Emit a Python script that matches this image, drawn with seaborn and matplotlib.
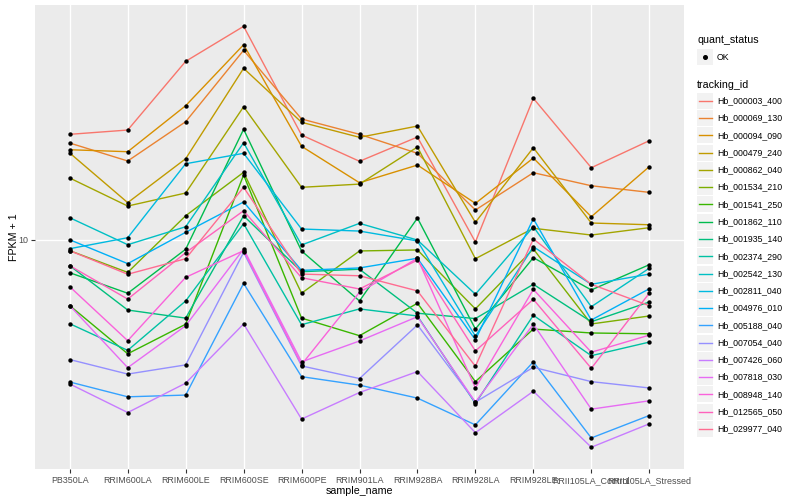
import numpy as np
import pandas as pd
import matplotlib
matplotlib.use('Agg')
import matplotlib.pyplot as plt
import seaborn as sns
from matplotlib.lines import Line2D
from matplotlib.patches import Rectangle
from matplotlib.ticker import NullLocator

# samples along the x axis
samples = ['PB350LA', 'RRIM600LA', 'RRIM600LE', 'RRIM600SE', 'RRIM600PE', 'RRIM901LA',
           'RRIM928BA', 'RRIM928LA', 'RRIM928LE', 'RRII105LA_Control', 'RRII105LA_Stressed']

genes = ['Hb_000003_400', 'Hb_000069_130', 'Hb_000094_090', 'Hb_000479_240', 'Hb_000862_040',
         'Hb_001534_210', 'Hb_001541_250', 'Hb_001862_110', 'Hb_001935_140', 'Hb_002374_290',
         'Hb_002542_130', 'Hb_002811_040', 'Hb_004976_010', 'Hb_005188_040', 'Hb_007054_040',
         'Hb_007426_060', 'Hb_007818_030', 'Hb_008948_140', 'Hb_012565_050', 'Hb_029977_040']

# FPKM + 1, one list per tracking_id (same order as samples)
hb_000003_400 = [22.42, 23.17, 39.26, 51.36, 22.30, 18.23, 21.96, 9.81, 29.56, 17.35, 21.35]
hb_000069_130 = [20.97, 18.27, 24.70, 42.73, 25.22, 22.42, 19.38, 12.54, 16.70, 15.11, 14.36]
hb_000094_090 = [19.92, 19.62, 27.93, 44.60, 20.45, 15.46, 17.71, 13.20, 18.69, 11.91, 17.49]
hb_000479_240 = [19.42, 13.27, 18.59, 37.21, 24.59, 21.91, 23.89, 11.41, 20.23, 11.35, 11.20]
hb_000862_040 = [16.03, 12.93, 14.29, 27.71, 14.93, 15.30, 20.34, 8.63, 10.90, 10.35, 10.95]
hb_001534_210 = [9.18, 7.77, 12.00, 16.75, 6.62, 9.16, 9.23, 5.87, 9.30, 5.23, 5.56]
hb_001541_250 = [6.02, 4.16, 5.22, 16.41, 5.47, 4.78, 6.13, 3.36, 5.03, 4.88, 4.85]
hb_001862_110 = [7.75, 6.62, 9.28, 23.30, 9.16, 6.24, 11.79, 5.03, 8.70, 6.79, 8.24]
hb_001935_140 = [8.18, 5.82, 5.47, 12.00, 7.81, 7.96, 5.68, 5.45, 7.09, 5.32, 6.19]
hb_002374_290 = [5.24, 4.27, 6.24, 11.29, 5.20, 5.87, 5.56, 2.84, 5.59, 4.10, 4.55]
hb_002542_130 = [11.82, 9.61, 11.03, 21.02, 9.59, 11.32, 9.96, 6.57, 11.03, 5.97, 8.02]
hb_002811_040 = [9.32, 10.14, 17.89, 19.38, 10.84, 10.67, 9.89, 4.76, 9.46, 7.09, 7.67]
hb_004976_010 = [9.98, 8.31, 10.57, 13.34, 7.89, 8.04, 8.66, 4.63, 11.73, 5.39, 6.85]
hb_005188_040 = [3.35, 2.99, 3.03, 7.14, 3.49, 3.27, 2.96, 2.41, 3.91, 2.18, 2.59]
hb_007054_040 = [3.98, 3.56, 3.82, 9.06, 3.79, 3.44, 5.19, 2.87, 3.75, 3.36, 3.20]
hb_007426_060 = [3.30, 2.65, 3.32, 5.23, 2.52, 3.09, 3.63, 2.27, 3.12, 2.03, 2.43]
hb_007818_030 = [6.02, 3.74, 5.16, 9.30, 3.91, 4.59, 5.53, 2.87, 5.22, 2.72, 2.90]
hb_008948_140 = [6.96, 4.60, 7.48, 9.18, 3.83, 6.67, 8.66, 3.20, 6.82, 4.21, 4.80]
hb_012565_050 = [8.18, 6.33, 9.04, 12.47, 7.46, 6.84, 8.54, 4.25, 6.32, 3.72, 6.62]
hb_029977_040 = [9.18, 7.66, 8.63, 14.93, 7.67, 7.57, 6.74, 3.78, 10.04, 7.09, 6.02]

series = [hb_000003_400, hb_000069_130, hb_000094_090, hb_000479_240, hb_000862_040,
          hb_001534_210, hb_001541_250, hb_001862_110, hb_001935_140, hb_002374_290,
          hb_002542_130, hb_002811_040, hb_004976_010, hb_005188_040, hb_007054_040,
          hb_007426_060, hb_007818_030, hb_008948_140, hb_012565_050, hb_029977_040]

# ggplot default hue palette for 20 levels
hue_colors = ['#F8766D', '#EA8331', '#D89000', '#C09B00', '#A3A500', '#7CAE00', '#39B600',
              '#00BB4E', '#00BF7D', '#00C1A3', '#00BFC4', '#00BAE0', '#00B0F6', '#35A2FF',
              '#9590FF', '#C77CFF', '#E76BF3', '#FA62DB', '#FF62BC', '#FF6C91']

rows = []
for g, vals in zip(genes, series):
    for i, (s, v) in enumerate(zip(samples, vals)):
        rows.append({'tracking_id': g, 'sample_name': s, 'pos': i, 'fpkm': v})
df = pd.DataFrame(rows)

plt.rcParams['font.family'] = ['Liberation Sans', 'DejaVu Sans']

W, H = 800, 500
fig = plt.figure(figsize=(8, 5), dpi=100)
ax = fig.add_axes([35 / W, 1 - 469 / H, (684 - 35) / W, (469 - 5) / H])
ax.set_facecolor('#EBEBEB')

sns.lineplot(data=df, x='pos', y='fpkm', hue='tracking_id', hue_order=genes,
             palette=dict(zip(genes, hue_colors)), estimator=None, sort=False,
             linewidth=1.0, legend=False, ax=ax)
sns.scatterplot(data=df, x='pos', y='fpkm', color='black', s=10, linewidth=0,
                legend=False, ax=ax, zorder=3)

ax.set_yscale('log')
ax.set_xlim(-0.6, 10.6)
ax.set_ylim(1.718, 60.5)
ax.set_yticks([10])
ax.set_yticklabels(['10'])
ax.yaxis.set_minor_locator(NullLocator())
ax.set_xticks(range(len(samples)))
ax.set_xticklabels(samples)
ax.tick_params(axis='both', length=3, width=0.8, color='#333333', labelsize=6.4,
               labelcolor='#4D4D4D', pad=2)
ax.grid(True, which='major', color='white', linewidth=1.0)
ax.set_axisbelow(True)
for sp in ax.spines.values():
    sp.set_visible(False)
ax.set_xlabel('sample_name', fontsize=7.7)
ax.set_ylabel('FPKM + 1', fontsize=7.7)
# put axis titles where ggplot had them
ax.xaxis.set_label_coords(0.5, (469 - 486) / 464)
ax.yaxis.set_label_coords((19 - 35) / 649, 0.5)


def fx(x):
    return x / W


def fy(y):
    return 1 - y / H


# legend drawn by hand, ggplot style
fig.text(fx(697), fy(40), 'quant_status', fontsize=7.7, va='center', ha='left')
fig.add_artist(Rectangle((fx(697), fy(65)), 16 / W, 16 / H, transform=fig.transFigure,
                         facecolor='#F2F2F2', edgecolor='none'))
fig.add_artist(Line2D([fx(705)], [fy(57)], marker='o', color='black', markersize=2.6,
                      linestyle='none', transform=fig.transFigure))
fig.text(fx(717), fy(57), 'OK', fontsize=6.3, va='center', ha='left')

fig.text(fx(697), fy(85), 'tracking_id', fontsize=7.7, va='center', ha='left')
for i, (g, c) in enumerate(zip(genes, hue_colors)):
    yc = 100.7 + i * 17.28
    fig.add_artist(Rectangle((fx(697), fy(yc + 8)), 16 / W, 16 / H,
                             transform=fig.transFigure, facecolor='#F2F2F2', edgecolor='none'))
    fig.add_artist(Line2D([fx(699), fx(712)], [fy(yc), fy(yc)], color=c, linewidth=1.0,
                          transform=fig.transFigure))
    fig.text(fx(717), fy(yc), g, fontsize=6.3, va='center', ha='left')

fig.savefig('out.png', dpi=100)
